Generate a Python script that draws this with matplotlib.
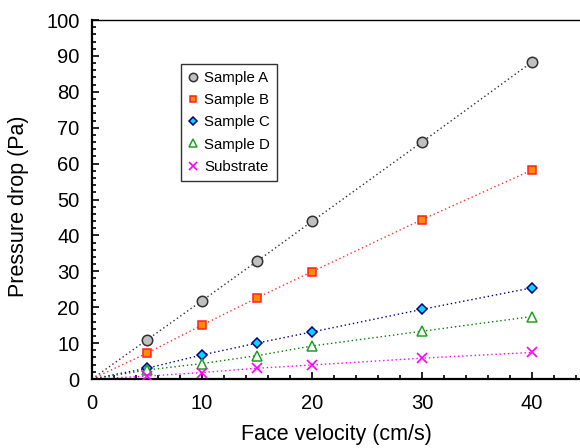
import matplotlib
matplotlib.use("Agg")
import matplotlib.pyplot as plt
from matplotlib.ticker import MultipleLocator

plt.rcParams['font.family'] = ['Liberation Sans', 'DejaVu Sans']

velocity = [5, 10, 15, 20, 30, 40]
sample_a = [10.9, 21.8, 32.8, 43.9, 66.0, 88.3]
sample_b = [7.2, 15.0, 22.6, 29.9, 44.4, 58.2]
sample_c = [3.0, 6.7, 10.0, 13.1, 19.4, 25.4]
sample_d = [2.5, 4.3, 6.5, 9.2, 13.3, 17.4]
substrate = [0.8, 1.8, 3.0, 3.9, 5.8, 7.4]

series = [
    ("Sample A", sample_a, dict(marker='o', mfc='#c0c0c0', mec='#303030', ms=7.5, mew=1.1), '#303030'),
    ("Sample B", sample_b, dict(marker='s', mfc='#ff8c00', mec='#ff2020', ms=6, mew=1.1), '#ff3030'),
    ("Sample C", sample_c, dict(marker='D', mfc='#00d8ff', mec='#000080', ms=5.5, mew=1.1), '#000080'),
    ("Sample D", sample_d, dict(marker='^', mfc='white', mec='#20a020', ms=7, mew=1.1), '#008000'),
    ("Substrate", substrate, dict(marker='x', mfc='none', mec='#ff00ff', ms=7, mew=1.2), '#ff00ff'),
]

W, H = 580, 448
fig = plt.figure(figsize=(W / 100, H / 100), dpi=100)
x0, y0, ytop = 92, 379, 20
xmax = 45
ax = fig.add_axes([x0 / W, 1 - y0 / H, xmax * 11 / W, (y0 - ytop) / H])

for name, vals, mk, lc in series:
    ax.plot([0] + velocity, [0] + vals, linestyle=(0, (1, 2)), color=lc, lw=1.0, zorder=2)
    ax.plot(velocity, vals, linestyle='none', label=name, zorder=3, **mk)

ax.set_xlim(0, xmax)
ax.set_ylim(0, 100)
ax.xaxis.set_major_locator(MultipleLocator(10))
ax.xaxis.set_minor_locator(MultipleLocator(2))
ax.yaxis.set_major_locator(MultipleLocator(10))
ax.yaxis.set_minor_locator(MultipleLocator(2))
ax.tick_params(which='both', direction='in', labelsize=14.5, width=1.2)
ax.tick_params(which='major', length=5)
ax.tick_params(which='minor', length=3)
ax.tick_params(axis='x', pad=11)
ax.tick_params(axis='y', pad=9)
ax.spines['right'].set_visible(False)
ax.spines['top'].set_linewidth(1.0)
for s in ['left', 'bottom']:
    ax.spines[s].set_linewidth(1.6)

fig.text(336 / W, 1 - 434 / H, "Face velocity (cm/s)", fontsize=15.5, ha='center', va='center')
fig.text(19 / W, 1 - 206 / H, "Pressure drop (Pa)", fontsize=15.5, ha='center', va='center',
         rotation=90)

leg = ax.legend(loc='upper left', bbox_to_anchor=((181 - x0) / (xmax * 11), (y0 - 64) / (y0 - ytop)),
                fontsize=10.8, frameon=True, fancybox=False, handlelength=0.7, markerscale=0.8,
                handletextpad=0.4, borderpad=0.45, labelspacing=0.55, borderaxespad=0)
leg.get_frame().set_edgecolor('black')
leg.get_frame().set_linewidth(1.0)

fig.savefig("out.png", dpi=100)
